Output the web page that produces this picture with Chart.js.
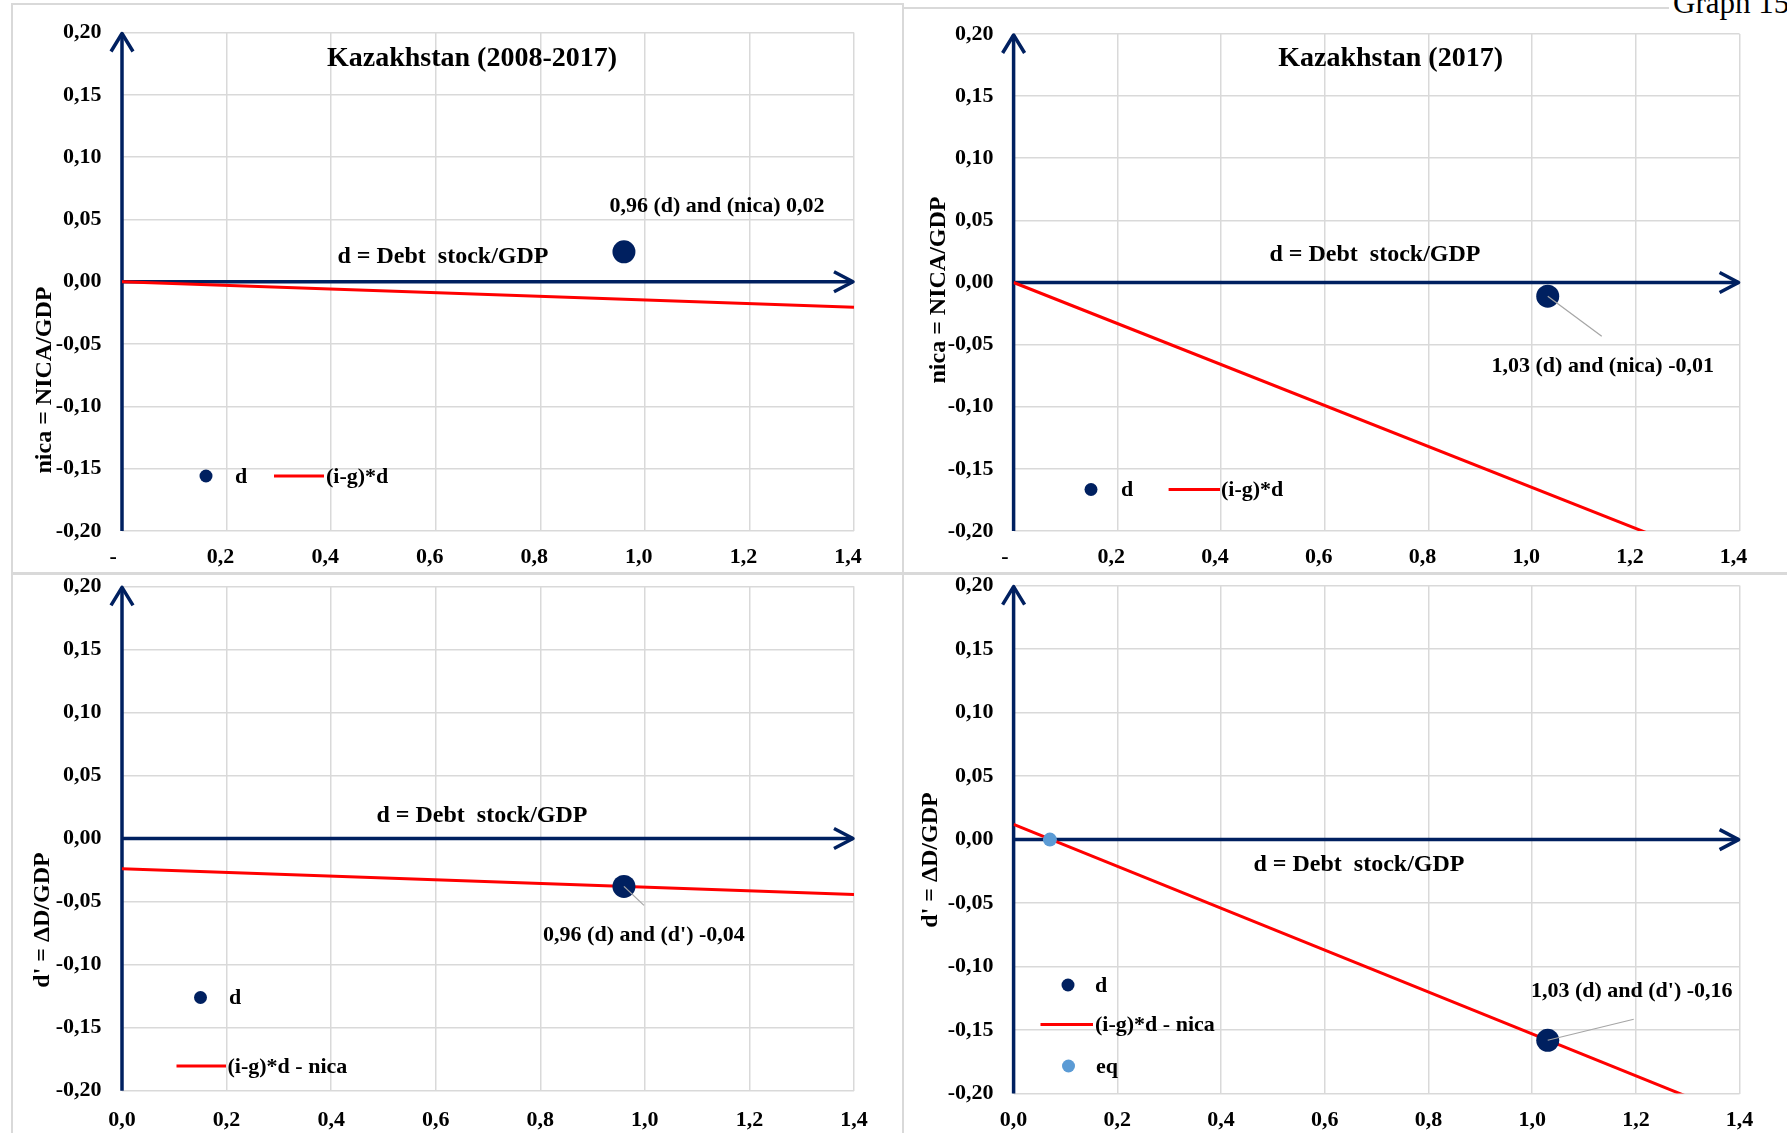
<!DOCTYPE html>
<html>
<head>
<meta charset="utf-8">
<title>Kazakhstan – debt dynamics</title>
<script src="https://cdn.jsdelivr.net/npm/chart.js@4.4.1/dist/chart.umd.min.js"></script>
<style>
  html, body { margin: 0; padding: 0; background: #fff; }
  #page { position: relative; width: 1787px; height: 1133px; overflow: hidden; background: #fff; }
  #page canvas { position: absolute; }
  .rule { position: absolute; background: #d9d9d9; }
  #graphNo { position: absolute; left: 1669px; top: -15px; padding-left: 4px; background: #fff;
             font: 31px 'Liberation Serif', 'Times New Roman', serif; color: #000; white-space: nowrap; }
</style>
</head>
<body>
<div id="page">
  <div class="rule" style="left:11px;top:3px;width:892px;height:2px"></div>
  <div class="rule" style="left:903px;top:7px;width:884px;height:2px"></div>
  <div class="rule" style="left:11px;top:3px;width:2px;height:1130px"></div>
  <div class="rule" style="left:902px;top:3px;width:2px;height:1130px"></div>
  <div class="rule" style="left:11px;top:572px;width:1776px;height:3px"></div>
  <div id="graphNo">Graph 15</div>
  <canvas id="chartAvgNica" width="903" height="573" style="left:0;top:0"></canvas>
  <canvas id="chart17Nica" width="884" height="573" style="left:903px;top:0"></canvas>
  <canvas id="chartAvgDprime" width="903" height="560" style="left:0;top:573px"></canvas>
  <canvas id="chart17Dprime" width="884" height="560" style="left:903px;top:573px"></canvas>
</div>
<script>
// ---- axis ticks ----
const xTickValues = [0, 0.2, 0.4, 0.6, 0.8, 1.0, 1.2, 1.4];
const xTickLabelsTop = ['- ', '0,2', '0,4', '0,6', '0,8', '1,0', '1,2', '1,4'];
const xTickLabelsBottom = ['0,0', '0,2', '0,4', '0,6', '0,8', '1,0', '1,2', '1,4'];
const yTickValues = [-0.2, -0.15, -0.1, -0.05, 0, 0.05, 0.1, 0.15, 0.2];
const yTickLabels = ['-0,20', '-0,15', '-0,10', '-0,05', '0,00', '0,05', '0,10', '0,15', '0,20'];

// ---- Kazakhstan, 2008-2017 average ----
const avgD = [0.96];                      // d = debt stock / GDP
const avgNica = [0.024];                  // nica = NICA / GDP
const avgDprime = [-0.038];               // d' = ΔD / GDP
const avgLineD = [0, 1.4];
const avgLineNica = [0, -0.0205];         // (i-g)*d
const avgLineDprime = [-0.024, -0.0444];  // (i-g)*d - nica

// ---- Kazakhstan, 2017 ----
const y17D = [1.03];
const y17Nica = [-0.011];
const y17Dprime = [-0.158];
const y17LineD = [0, 1.4];
const y17LineNica = [0, -0.231];
const y17LineDprime = [0.012, -0.219];
const y17EqD = [0.07];
const y17EqDprime = [0];

// ---- styling ----
const navy = '#002060';
const red = '#ff0000';
const eqBlue = '#5b9bd5';
const gridGray = '#d9d9d9';
const serif = "'Liberation Serif', 'Times New Roman', Times, serif";

const pts = (xs, ys) => xs.map((x, i) => ({ x: x, y: ys[i] }));
const fmt = v => v.toFixed(2).replace('.', ',');

const pointSet = (label, xs, ys, color, r, order) => ({
  label: label, data: pts(xs, ys), backgroundColor: color, borderWidth: 0,
  pointRadius: r, pointHoverRadius: r, order: order
});
const lineSet = (label, xs, ys) => ({
  label: label, data: pts(xs, ys), showLine: true, borderColor: red, borderWidth: 3,
  pointRadius: 0, pointHoverRadius: 0, fill: false, order: 3
});

// axis arrows, callout, titles and legend drawn on the chart canvas
const decor = {
  id: 'decor',
  beforeDatasetsDraw(chart) {
    const ctx = chart.ctx, xs = chart.scales.x, ys = chart.scales.y;
    const x0 = xs.getPixelForValue(0), y0 = ys.getPixelForValue(0);
    const xEnd = xs.getPixelForValue(xs.max);
    const yTop = ys.getPixelForValue(ys.max), yBot = ys.getPixelForValue(ys.min);
    ctx.save();
    ctx.strokeStyle = navy; ctx.lineWidth = 3.5; ctx.lineJoin = 'round'; ctx.lineCap = 'butt';
    ctx.beginPath(); ctx.moveTo(x0, yBot); ctx.lineTo(x0, yTop + 1); ctx.stroke();
    ctx.beginPath(); ctx.moveTo(x0 - 11, yTop + 19); ctx.lineTo(x0, yTop + 1); ctx.lineTo(x0 + 11, yTop + 19); ctx.stroke();
    ctx.beginPath(); ctx.moveTo(x0, y0); ctx.lineTo(xEnd - 1, y0); ctx.stroke();
    ctx.beginPath(); ctx.moveTo(xEnd - 20, y0 - 10); ctx.lineTo(xEnd - 1, y0); ctx.lineTo(xEnd - 20, y0 + 10); ctx.stroke();
    ctx.restore();
  },
  afterDatasetsDraw(chart, args, o) {
    const ctx = chart.ctx;
    ctx.save();
    ctx.fillStyle = '#000';
    ctx.textBaseline = 'middle';
    // value callout on the "d" point
    const c = o.callout;
    const pt = chart.getDatasetMeta(c.dataset).data[0];
    if (c.leader) {
      ctx.strokeStyle = '#a6a6a6'; ctx.lineWidth = 1.25;
      ctx.beginPath(); ctx.moveTo(pt.x, pt.y); ctx.lineTo(pt.x + c.leader[0], pt.y + c.leader[1]); ctx.stroke();
    }
    ctx.font = 'bold 22px ' + serif;
    ctx.textAlign = 'center';
    ctx.fillText(c.text, pt.x + c.label[0], pt.y + c.label[1]);
    // titles
    o.texts.forEach(t => {
      ctx.save();
      ctx.font = 'bold ' + t.size + 'px ' + serif;
      ctx.textAlign = 'center';
      ctx.translate(t.x, t.y);
      if (t.rotate) ctx.rotate(-Math.PI / 2);
      ctx.fillText(t.text, 0, 0);
      ctx.restore();
    });
    // legend
    ctx.font = 'bold 22px ' + serif;
    ctx.textAlign = 'left';
    o.legend.forEach(it => {
      const ds = chart.data.datasets[it.dataset];
      if (ds.showLine) {
        ctx.strokeStyle = ds.borderColor; ctx.lineWidth = ds.borderWidth;
        ctx.beginPath(); ctx.moveTo(it.x, it.y); ctx.lineTo(it.x2, it.y); ctx.stroke();
      } else {
        ctx.fillStyle = ds.backgroundColor;
        ctx.beginPath(); ctx.arc(it.x, it.y, 6.5, 0, Math.PI * 2); ctx.fill();
      }
      ctx.fillStyle = '#000';
      ctx.fillText(ds.label, it.textX, it.y + 1);
    });
    ctx.restore();
  }
};

// the plot box is fixed, so the scales reserve no extra room for half-labels
const noScalePadding = s => { s.paddingTop = 0; s.paddingBottom = 0; s.paddingLeft = 0; s.paddingRight = 0; };

function makeChart(id, p) {
  const tickFont = { family: serif, size: 22, weight: 'bold', lineHeight: 1 };
  return new Chart(document.getElementById(id), {
    type: 'scatter',
    data: { datasets: p.datasets },
    options: {
      responsive: false, animation: false, devicePixelRatio: 1, events: [],
      layout: { padding: { left: 0, top: p.plot.t, right: p.w - p.plot.r, bottom: 0 } },
      plugins: { legend: { display: false }, tooltip: { enabled: false }, decor: p.decor },
      scales: {
        x: {
          type: 'linear', min: 0, max: 1.4,
          afterBuildTicks: s => { s.ticks = xTickValues.map(v => ({ value: v })); },
          afterFit: s => { s.height = p.h - p.plot.b; noScalePadding(s); },
          ticks: { callback: (v, i) => p.xLabels[i], font: tickFont, color: '#000',
                   padding: p.xPad, labelOffset: p.xShift, maxRotation: 0, autoSkip: false },
          grid: { color: gridGray, lineWidth: 1.5, drawTicks: false },
          border: { display: false }
        },
        y: {
          type: 'linear', min: -0.2, max: 0.2,
          afterBuildTicks: s => { s.ticks = yTickValues.map(v => ({ value: v })); },
          afterFit: s => { s.width = p.plot.l; noScalePadding(s); },
          ticks: { callback: (v, i) => yTickLabels[i], font: tickFont, color: '#000',
                   padding: p.yPad, autoSkip: false },
          grid: { color: gridGray, lineWidth: 1.5, drawTicks: false },
          border: { display: false }
        }
      }
    },
    plugins: [decor]
  });
}

const xName = 'd = Debt  stock/GDP';

// Kazakhstan (2008-2017): nica against d
makeChart('chartAvgNica', {
  w: 903, h: 573, plot: { l: 122, r: 854, t: 32.5, b: 531 },
  xLabels: xTickLabelsTop, xPad: 15, xShift: -6, yPad: 20.5,
  datasets: [
    pointSet('d', avgD, avgNica, navy, 11.5, 1),
    lineSet('(i-g)*d', avgLineD, avgLineNica)
  ],
  decor: {
    callout: { dataset: 0, label: [93, -46], leader: null,
               text: fmt(avgD[0]) + ' (d) and (nica) ' + fmt(avgNica[0]) },
    texts: [
      { text: 'Kazakhstan (2008-2017)', x: 472, y: 59, size: 28 },
      { text: xName, x: 443, y: 257, size: 24 },
      { text: 'nica = NICA/GDP', x: 44.5, y: 380, size: 24, rotate: true }
    ],
    legend: [
      { dataset: 0, x: 206, y: 476, textX: 235 },
      { dataset: 1, x: 274, x2: 324, y: 476, textX: 326 }
    ]
  }
});

// Kazakhstan (2017): nica against d
makeChart('chart17Nica', {
  w: 884, h: 573, plot: { l: 110.6, r: 836.6, t: 34, b: 531 },
  xLabels: xTickLabelsTop, xPad: 15, xShift: -6, yPad: 20,
  datasets: [
    pointSet('d', y17D, y17Nica, navy, 11.5, 1),
    lineSet('(i-g)*d', y17LineD, y17LineNica)
  ],
  decor: {
    callout: { dataset: 0, label: [55, 70], leader: [54, 40],
               text: fmt(y17D[0]) + ' (d) and (nica) ' + fmt(y17Nica[0]) },
    texts: [
      { text: 'Kazakhstan (2017)', x: 487.6, y: 58.5, size: 28 },
      { text: xName, x: 472, y: 255, size: 24 },
      { text: 'nica = NICA/GDP', x: 35.6, y: 290, size: 24, rotate: true }
    ],
    legend: [
      { dataset: 0, x: 188, y: 489.5, textX: 218 },
      { dataset: 1, x: 265.6, x2: 317, y: 489.5, textX: 318 }
    ]
  }
});

// Kazakhstan (2008-2017): d' against d
makeChart('chartAvgDprime', {
  w: 903, h: 560, plot: { l: 122, r: 854, t: 13.3, b: 517.7 },
  xLabels: xTickLabelsBottom, xPad: 19, xShift: 0, yPad: 20.5,
  datasets: [
    pointSet('d', avgD, avgDprime, navy, 11.5, 1),
    lineSet('(i-g)*d - nica', avgLineD, avgLineDprime)
  ],
  decor: {
    callout: { dataset: 0, label: [20, 49], leader: [20, 19],
               text: fmt(avgD[0]) + " (d) and (d') " + fmt(avgDprime[0]) },
    texts: [
      { text: xName, x: 482, y: 242.8, size: 24 },
      { text: "d' = ΔD/GDP", x: 43, y: 347, size: 24, rotate: true }
    ],
    legend: [
      { dataset: 0, x: 200.5, y: 424.5, textX: 229 },
      { dataset: 1, x: 176.5, x2: 226, y: 493, textX: 227.5 }
    ]
  }
});

// Kazakhstan (2017): d' against d, with the equilibrium point
makeChart('chart17Dprime', {
  w: 884, h: 560, plot: { l: 110.6, r: 836.6, t: 12.6, b: 520.6 },
  xLabels: xTickLabelsBottom, xPad: 16, xShift: 0, yPad: 20,
  datasets: [
    pointSet('d', y17D, y17Dprime, navy, 11.5, 1),
    lineSet('(i-g)*d - nica', y17LineD, y17LineDprime),
    pointSet('eq', y17EqD, y17EqDprime, eqBlue, 7, 2)
  ],
  decor: {
    callout: { dataset: 0, label: [84, -49], leader: [86, -21],
               text: fmt(y17D[0]) + " (d) and (d') " + fmt(y17Dprime[0]) },
    texts: [
      { text: xName, x: 456, y: 292, size: 24 },
      { text: "d' = ΔD/GDP", x: 27.5, y: 287, size: 24, rotate: true }
    ],
    legend: [
      { dataset: 0, x: 165, y: 412, textX: 192 },
      { dataset: 1, x: 137.5, x2: 190, y: 451.5, textX: 192 },
      { dataset: 2, x: 165.5, y: 493, textX: 193 }
    ]
  }
});
</script>
</body>
</html>
